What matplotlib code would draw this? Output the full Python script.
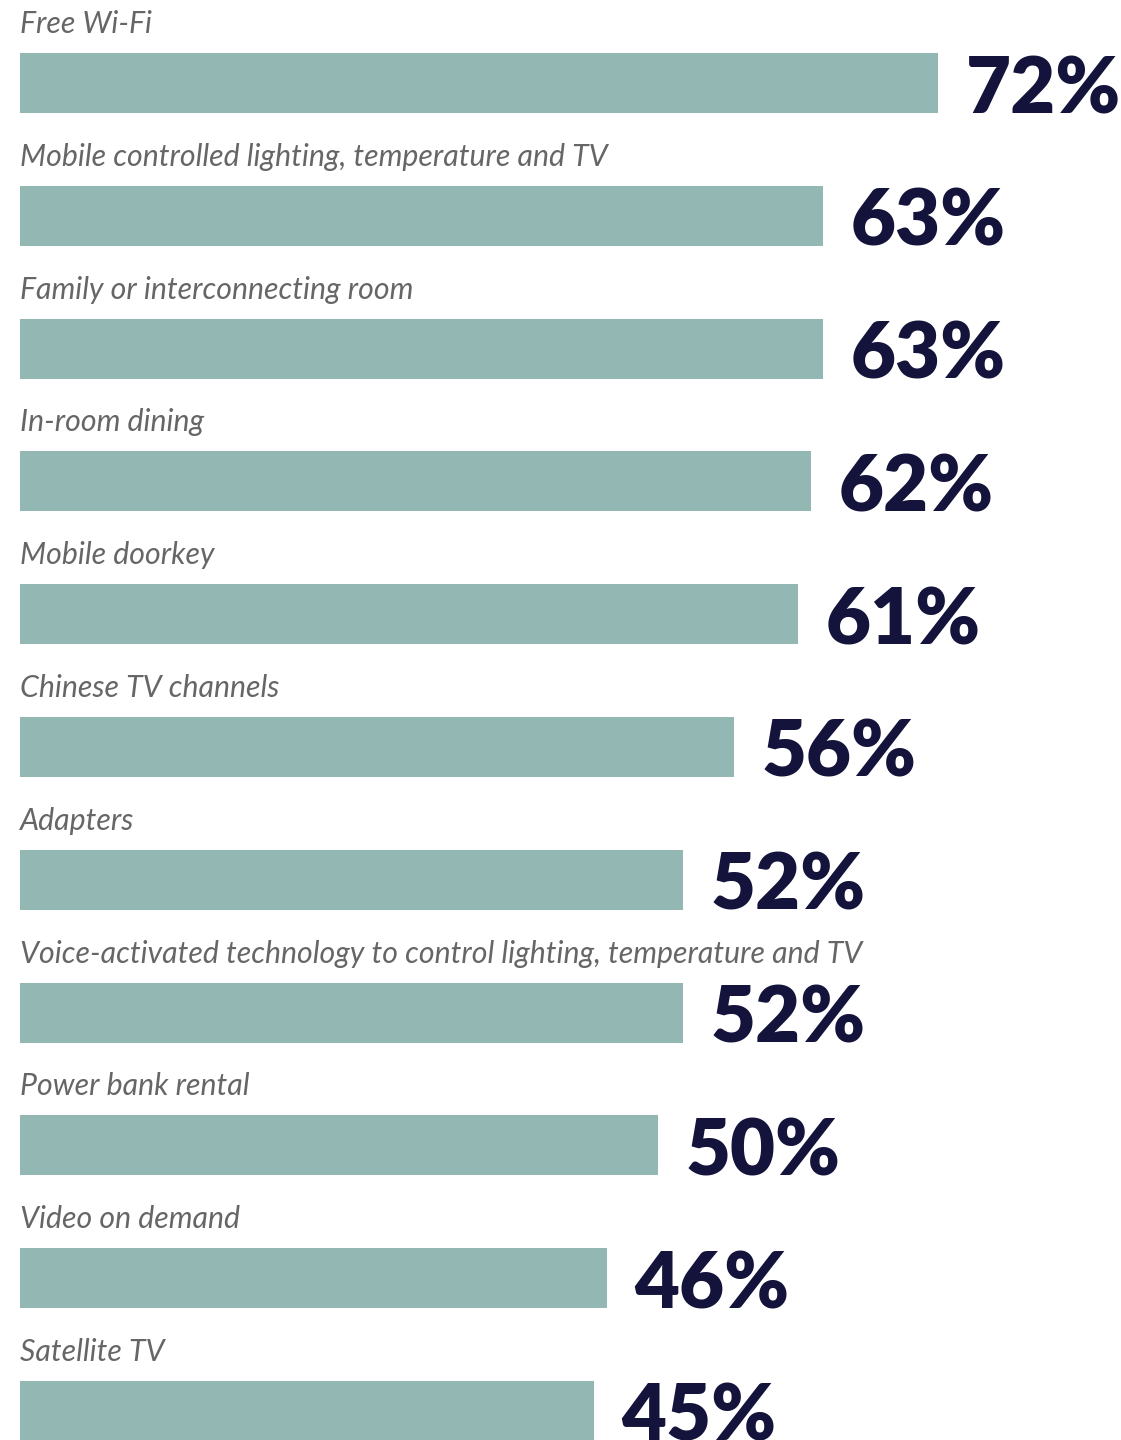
import matplotlib
matplotlib.use("Agg")
import matplotlib.pyplot as plt

# 호텔 객실 편의시설 선호도 (응답 비율, %)
categories = [
    "Free Wi-Fi",
    "Mobile controlled lighting, temperature and TV",
    "Family or interconnecting room",
    "In-room dining",
    "Mobile doorkey",
    "Chinese TV channels",
    "Adapters",
    "Voice-activated technology to control lighting, temperature and TV",
    "Power bank rental",
    "Video on demand",
    "Satellite TV",
]
values = [72, 63, 63, 62, 61, 56, 52, 52, 50, 46, 45]

BAR_COLOR = "#93b8b4"
VALUE_COLOR = "#13133b"
LABEL_COLOR = "#666666"

W, H, DPI = 1121, 1440, 100
ROW_PX = 132.8        # 행 간격(px)
BAR_PX = 60           # 막대 두께(px)
PX_PER_PCT = 12.75    # 1%당 가로 길이(px)

fig = plt.figure(figsize=(W / DPI, H / DPI), dpi=DPI)
left = 20 / W
ax = fig.add_axes([left, 0, 1 - left, 1])
ax.set_xlim(0, (W - 20) / PX_PER_PCT)
first_center = 83
ax.set_ylim((H - first_center) / ROW_PX, -first_center / ROW_PX)
ax.axis("off")

h = BAR_PX / ROW_PX
ypos = list(range(len(values)))
ax.barh(ypos, values, height=h, color=BAR_COLOR, linewidth=0)

for y, cat, v in zip(ypos, categories, values):
    ax.text(0, y - h / 2 - 20 / ROW_PX, cat, ha="left", va="baseline",
            fontsize=21.8, style="italic", color=LABEL_COLOR,
            family=["Lato", "DejaVu Sans"])
    ax.annotate(f"{v}%", xy=(v, y + h / 2), xytext=(20, 0),
                textcoords="offset points", ha="left", va="baseline",
                fontsize=56, fontweight="heavy", color=VALUE_COLOR,
                family=["Lato", "DejaVu Sans"], annotation_clip=False)

fig.savefig("out.png", dpi=DPI)
